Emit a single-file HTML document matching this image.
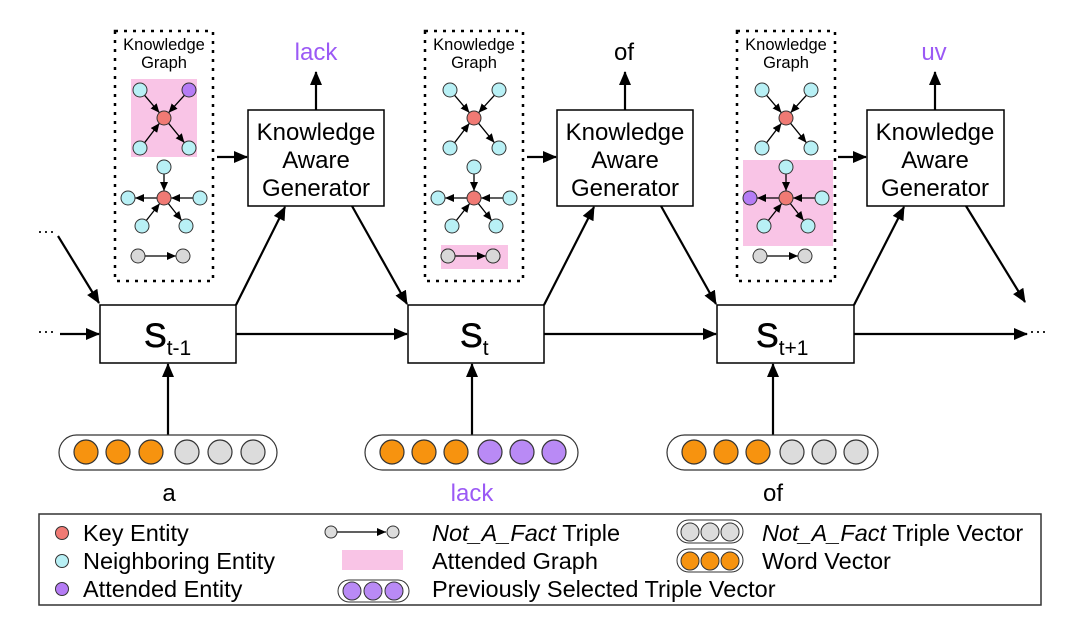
<!DOCTYPE html>
<html><head><meta charset="utf-8"><style>
html,body{margin:0;padding:0;background:#fff;}
svg{display:block;font-family:"Liberation Sans",sans-serif;}
</style></head><body>
<svg width="1080" height="634" viewBox="0 0 1080 634" xmlns="http://www.w3.org/2000/svg">
<defs>
<marker id="a" markerUnits="userSpaceOnUse" markerWidth="14" markerHeight="12" refX="13" refY="6" orient="auto"><path d="M0,0 L14,6 L0,12 z" fill="#000"/></marker>
<marker id="s" markerUnits="userSpaceOnUse" markerWidth="9" markerHeight="8" refX="9" refY="4" orient="auto"><path d="M0,0 L9,4 L0,8 z" fill="#000"/></marker>
<g id="g1">
<line x1="29.6" y1="95.3" x2="44.4" y2="112.7" stroke="#000" stroke-width="1.3" marker-end="url(#s)"/>
<line x1="69.4" y1="95.3" x2="53.6" y2="112.7" stroke="#000" stroke-width="1.3" marker-end="url(#s)"/>
<line x1="29.6" y1="142.7" x2="44.4" y2="123.3" stroke="#000" stroke-width="1.3" marker-end="url(#s)"/>
<line x1="53.6" y1="123.3" x2="69.4" y2="142.7" stroke="#000" stroke-width="1.3" marker-end="url(#s)"/>
<line x1="49" y1="174" x2="49" y2="191" stroke="#000" stroke-width="1.3" marker-end="url(#s)"/>
<line x1="78" y1="198" x2="56" y2="198" stroke="#000" stroke-width="1.3" marker-end="url(#s)"/>
<line x1="42" y1="198" x2="20" y2="198" stroke="#000" stroke-width="1.3" marker-end="url(#s)"/>
<line x1="31.3" y1="220.5" x2="44.7" y2="203.5" stroke="#000" stroke-width="1.3" marker-end="url(#s)"/>
<line x1="53.3" y1="203.5" x2="66.7" y2="220.5" stroke="#000" stroke-width="1.3" marker-end="url(#s)"/>
<line x1="30" y1="256" x2="61" y2="256" stroke="#000" stroke-width="1.3" marker-end="url(#s)"/>
<g stroke="#333" stroke-width="1">
<circle cx="25" cy="90" r="7" fill="#b8f0f5"/>
<circle cx="49" cy="118" r="7" fill="#f07a74"/>
<circle cx="25" cy="148" r="7" fill="#b8f0f5"/>
<circle cx="74" cy="148" r="7" fill="#b8f0f5"/>
<circle cx="49" cy="167" r="7" fill="#b8f0f5"/>
<circle cx="49" cy="198" r="7" fill="#f07a74"/>
<circle cx="85" cy="198" r="7" fill="#b8f0f5"/>
<circle cx="27" cy="226" r="7" fill="#b8f0f5"/>
<circle cx="71" cy="226" r="7" fill="#b8f0f5"/>
<circle cx="23" cy="256" r="7" fill="#d8d8d8"/>
<circle cx="68" cy="256" r="7" fill="#d8d8d8"/>
</g>
<rect x="0" y="31" width="98" height="250" fill="none" stroke="#000" stroke-width="2.5" stroke-dasharray="3,6"/>
<text x="49" y="50" font-size="16.5" text-anchor="middle">Knowledge</text>
<text x="49" y="68" font-size="16.5" text-anchor="middle">Graph</text>
</g>
</defs>

<g transform="translate(115,0)">
<rect x="16" y="79" width="66" height="78" fill="#f9c4e6"/>
<use href="#g1"/>
<circle cx="74" cy="90" r="7" fill="#b57cf5" stroke="#333"/>
<circle cx="13" cy="198" r="7" fill="#b8f0f5" stroke="#333"/>
</g>
<g transform="translate(425,0)">
<rect x="16" y="245" width="67" height="24" fill="#f9c4e6"/>
<use href="#g1"/>
<circle cx="74" cy="90" r="7" fill="#b8f0f5" stroke="#333"/>
<circle cx="13" cy="198" r="7" fill="#b8f0f5" stroke="#333"/>
<circle cx="23" cy="256" r="7" fill="#d8d8d8" stroke="#333"/>
<circle cx="68" cy="256" r="7" fill="#d8d8d8" stroke="#333"/>
</g>
<g transform="translate(737,0)">
<rect x="6" y="160" width="90" height="86" fill="#f9c4e6"/>
<use href="#g1"/>
<circle cx="74" cy="90" r="7" fill="#b8f0f5" stroke="#333"/>
<circle cx="13" cy="198" r="7" fill="#b57cf5" stroke="#333"/>
</g>

<g font-size="24" text-anchor="middle">
<rect x="248" y="110" width="136" height="96" fill="#fff" stroke="#000" stroke-width="1.5"/>
<text x="316" y="140">Knowledge</text><text x="316" y="168">Aware</text><text x="316" y="196">Generator</text>
<rect x="557" y="110" width="136" height="96" fill="#fff" stroke="#000" stroke-width="1.5"/>
<text x="625" y="140">Knowledge</text><text x="625" y="168">Aware</text><text x="625" y="196">Generator</text>
<rect x="867" y="110" width="137" height="96" fill="#fff" stroke="#000" stroke-width="1.5"/>
<text x="935" y="140">Knowledge</text><text x="935" y="168">Aware</text><text x="935" y="196">Generator</text>
<text x="316" y="60" fill="#9b59f5">lack</text>
<text x="624" y="60">of</text>
<text x="934" y="60" fill="#9b59f5">uv</text>
</g>

<g>
<rect x="100" y="305" width="136" height="58" fill="#fff" stroke="#000" stroke-width="1.5"/>
<text x="144" y="347" font-size="34" stroke="#000" stroke-width="0.6">S<tspan font-size="21" dy="8" stroke-width="0">t-1</tspan></text>
<rect x="408" y="305" width="136" height="58" fill="#fff" stroke="#000" stroke-width="1.5"/>
<text x="460" y="347" font-size="34" stroke="#000" stroke-width="0.6">S<tspan font-size="21" dy="8" stroke-width="0">t</tspan></text>
<rect x="717" y="305" width="137" height="58" fill="#fff" stroke="#000" stroke-width="1.5"/>
<text x="756" y="347" font-size="34" stroke="#000" stroke-width="0.6">S<tspan font-size="21" dy="8" stroke-width="0">t+1</tspan></text>
</g>

<g stroke="#000" stroke-width="2.2" fill="none">
<line x1="316" y1="110" x2="316" y2="72" marker-end="url(#a)"/>
<line x1="625" y1="110" x2="625" y2="72" marker-end="url(#a)"/>
<line x1="935" y1="110" x2="935" y2="72" marker-end="url(#a)"/>
<line x1="217" y1="157" x2="247" y2="157" marker-end="url(#a)"/>
<line x1="527" y1="157" x2="556" y2="157" marker-end="url(#a)"/>
<line x1="838" y1="157" x2="866" y2="157" marker-end="url(#a)"/>
<line x1="236" y1="305" x2="285" y2="207" marker-end="url(#a)"/>
<line x1="544" y1="305" x2="594" y2="207" marker-end="url(#a)"/>
<line x1="854" y1="305" x2="904" y2="207" marker-end="url(#a)"/>
<line x1="352" y1="206" x2="407" y2="304" marker-end="url(#a)"/>
<line x1="661" y1="206" x2="716" y2="304" marker-end="url(#a)"/>
<line x1="966" y1="206" x2="1025" y2="302" marker-end="url(#a)"/>
<line x1="58" y1="236" x2="99" y2="303" marker-end="url(#a)"/>
<line x1="60" y1="334" x2="99" y2="334" marker-end="url(#a)"/>
<line x1="236" y1="334" x2="407" y2="334" marker-end="url(#a)"/>
<line x1="544" y1="334" x2="716" y2="334" marker-end="url(#a)"/>
<line x1="854" y1="334" x2="1027" y2="334" marker-end="url(#a)"/>
<line x1="168" y1="435" x2="168" y2="364" marker-end="url(#a)"/>
<line x1="472" y1="435" x2="472" y2="364" marker-end="url(#a)"/>
<line x1="773" y1="435" x2="773" y2="364" marker-end="url(#a)"/>
</g>
<g font-size="18">
<text x="37" y="237">···</text>
<text x="37" y="337">···</text>
<text x="1029" y="337">···</text>
</g>

<g stroke="#333" stroke-width="1.2">
<rect x="59" y="435" width="218" height="35" rx="17.5" fill="#fff"/>
<circle cx="86" cy="452" r="12" fill="#f7930f"/><circle cx="118" cy="452" r="12" fill="#f7930f"/><circle cx="151" cy="452" r="12" fill="#f7930f"/>
<circle cx="187" cy="452" r="12" fill="#dcdcdc"/><circle cx="220" cy="452" r="12" fill="#dcdcdc"/><circle cx="253" cy="452" r="12" fill="#dcdcdc"/>
<rect x="365" y="435" width="213" height="35" rx="17.5" fill="#fff"/>
<circle cx="392" cy="452" r="12" fill="#f7930f"/><circle cx="424" cy="452" r="12" fill="#f7930f"/><circle cx="456" cy="452" r="12" fill="#f7930f"/>
<circle cx="490" cy="452" r="12" fill="#b98af5"/><circle cx="522" cy="452" r="12" fill="#b98af5"/><circle cx="554" cy="452" r="12" fill="#b98af5"/>
<rect x="667" y="435" width="211" height="35" rx="17.5" fill="#fff"/>
<circle cx="694" cy="452" r="12" fill="#f7930f"/><circle cx="726" cy="452" r="12" fill="#f7930f"/><circle cx="758" cy="452" r="12" fill="#f7930f"/>
<circle cx="792" cy="452" r="12" fill="#dcdcdc"/><circle cx="824" cy="452" r="12" fill="#dcdcdc"/><circle cx="856" cy="452" r="12" fill="#dcdcdc"/>
</g>
<g font-size="24" text-anchor="middle">
<text x="169" y="501">a</text>
<text x="472" y="501" fill="#9b59f5">lack</text>
<text x="773" y="501">of</text>
</g>

<rect x="39" y="514" width="1002" height="91" fill="#fff" stroke="#333" stroke-width="1.5"/>
<g stroke="#333" stroke-width="1">
<circle cx="62" cy="533" r="6.5" fill="#f07a74"/>
<circle cx="62" cy="561" r="6.5" fill="#b8f0f5"/>
<circle cx="62" cy="589" r="6.5" fill="#b57cf5"/>
<circle cx="331" cy="532" r="6" fill="#dcdcdc"/>
<circle cx="393" cy="532" r="6" fill="#dcdcdc"/>
<rect x="338" y="580" width="71" height="22" rx="11" fill="#fff"/>
<circle cx="352" cy="591" r="9" fill="#b98af5"/><circle cx="373" cy="591" r="9" fill="#b98af5"/><circle cx="394" cy="591" r="9" fill="#b98af5"/>
<rect x="677" y="520" width="66" height="23" rx="11.5" fill="#fff"/>
<circle cx="690" cy="532" r="9" fill="#dcdcdc"/><circle cx="710" cy="532" r="9" fill="#dcdcdc"/><circle cx="730" cy="532" r="9" fill="#dcdcdc"/>
<rect x="677" y="549" width="66" height="23" rx="11.5" fill="#fff"/>
<circle cx="690" cy="561" r="9" fill="#f7930f"/><circle cx="710" cy="561" r="9" fill="#f7930f"/><circle cx="730" cy="561" r="9" fill="#f7930f"/>
</g>
<line x1="337" y1="532" x2="386" y2="532" stroke="#000" stroke-width="1.2" marker-end="url(#s)"/>
<rect x="342" y="550" width="61" height="20" fill="#f9c4e6"/>
<g font-size="23.5">
<text x="83" y="541">Key Entity</text>
<text x="83" y="569">Neighboring Entity</text>
<text x="83" y="597">Attended Entity</text>
<text x="432" y="541"><tspan font-style="italic">Not_A_Fact</tspan> Triple</text>
<text x="432" y="569">Attended Graph</text>
<text x="432" y="597">Previously Selected Triple Vector</text>
<text x="762" y="541"><tspan font-style="italic">Not_A_Fact</tspan> Triple Vector</text>
<text x="762" y="569">Word Vector</text>
</g>
</svg>
</body></html>
